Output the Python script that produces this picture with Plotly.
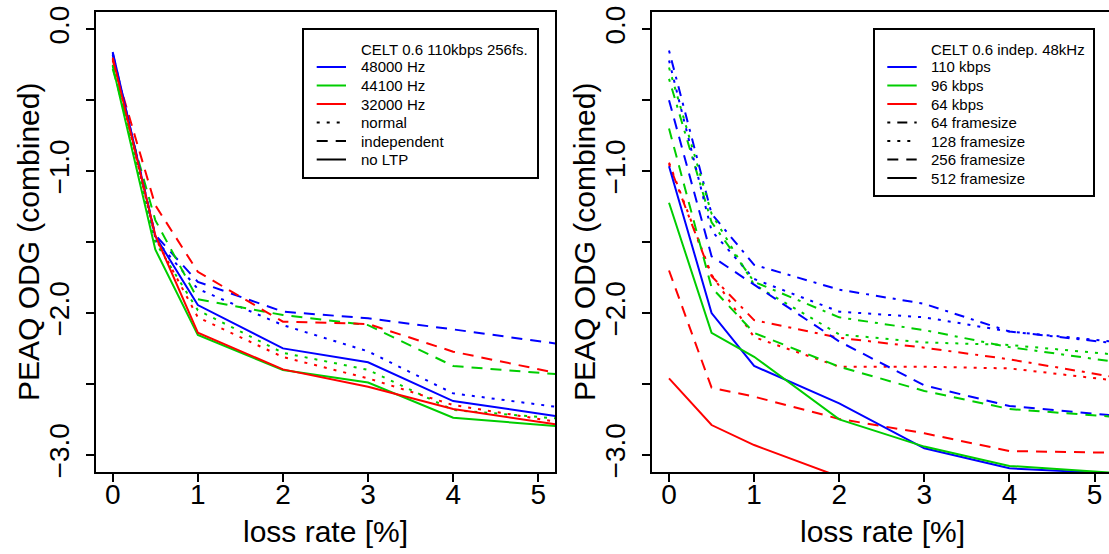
import plotly.graph_objects as go

W, H = 1109, 554
FONT = "Liberation Sans, Arial, Helvetica, sans-serif"

# loss rates [%] (last value sits on the right frame of the plot)
loss_rate = [0, 0.5, 1, 2, 3, 4, 5.2]

# left panel: CELT 0.6 110kbps 256fs., PEAQ ODG per sample rate / mode
hz48000_normal = [-0.18, -1.48, -1.83, -2.085, -2.27, -2.566, -2.66]
hz48000_indep = [-0.17, -1.45, -1.78, -1.99, -2.037, -2.115, -2.214]
hz48000_noltp = [-0.16, -1.458, -1.944, -2.249, -2.347, -2.62, -2.725]
hz44100_normal = [-0.25, -1.50, -1.98, -2.28, -2.40, -2.683, -2.742]
hz44100_indep = [-0.28, -1.345, -1.903, -2.014, -2.085, -2.373, -2.43]
hz44100_noltp = [-0.26, -1.552, -2.155, -2.401, -2.49, -2.737, -2.796]
hz32000_normal = [-0.21, -1.47, -2.03, -2.31, -2.46, -2.648, -2.765]
hz32000_indep = [-0.22, -1.24, -1.709, -2.061, -2.077, -2.272, -2.42]
hz32000_noltp = [-0.20, -1.451, -2.138, -2.397, -2.519, -2.676, -2.784]

# right panel: CELT 0.6 independent 48kHz, per bitrate / frame size
kbps110_fs64 = [-0.15, -1.30, -1.66, -1.835, -1.935, -2.13, -2.21]
kbps110_fs128 = [-0.22, -1.42, -1.76, -1.99, -2.03, -2.13, -2.20]
kbps110_fs256 = [-0.50, -1.60, -1.80, -2.20, -2.51, -2.655, -2.72]
kbps110_fs512 = [-0.965, -2.00, -2.373, -2.636, -2.953, -3.094, -3.13]
kbps96_fs64 = [-0.35, -1.36, -1.78, -2.03, -2.12, -2.24, -2.34]
kbps96_fs128 = [-0.27, -1.30, -1.80, -2.15, -2.207, -2.225, -2.29]
kbps96_fs256 = [-0.70, -1.82, -2.14, -2.378, -2.549, -2.676, -2.73]
kbps96_fs512 = [-1.223, -2.139, -2.308, -2.749, -2.941, -3.077, -3.125]
kbps64_fs64 = [-0.95, -1.74, -2.05, -2.174, -2.244, -2.326, -2.448]
kbps64_fs128 = [-0.94, -1.73, -2.17, -2.378, -2.378, -2.39, -2.472]
kbps64_fs256 = [-1.70, -2.526, -2.589, -2.746, -2.847, -2.972, -2.984]
kbps64_fs512 = [-2.46, -2.789, -2.93, -3.153, None, None, None]

x_ticks = [0, 1, 2, 3, 4, 5]
y_tick_vals = [0, -0.5, -1, -1.5, -2, -2.5, -3]
y_tick_text = ["0.0", "", "\u22121.0", "", "\u22122.0", "", "\u22123.0"]

BLUE, GREEN, RED = "#0000FF", "#00CD00", "#FF0000"
DOT = "3px,7px"
DASH = "11px,8px"
DOTDASH = "3px,7px,10px,7px"
LW = 2

left_series = [
    (hz48000_normal, BLUE, DOT), (hz44100_normal, GREEN, DOT), (hz32000_normal, RED, DOT),
    (hz48000_indep, BLUE, DASH), (hz44100_indep, GREEN, DASH), (hz32000_indep, RED, DASH),
    (hz48000_noltp, BLUE, "solid"), (hz44100_noltp, GREEN, "solid"), (hz32000_noltp, RED, "solid"),
]
right_series = [
    (kbps110_fs64, BLUE, DOTDASH), (kbps96_fs64, GREEN, DOTDASH), (kbps64_fs64, RED, DOTDASH),
    (kbps110_fs128, BLUE, DOT), (kbps96_fs128, GREEN, DOT), (kbps64_fs128, RED, DOT),
    (kbps110_fs256, BLUE, DASH), (kbps96_fs256, GREEN, DASH), (kbps64_fs256, RED, DASH),
    (kbps110_fs512, BLUE, "solid"), (kbps96_fs512, GREEN, "solid"), (kbps64_fs512, RED, "solid"),
]


def px_x(p):
    return p / W


def px_y(p):
    return 1 - p / H


fig = go.Figure()
for vals, color, dash in left_series:
    fig.add_trace(go.Scatter(x=loss_rate, y=vals, mode="lines", xaxis="x", yaxis="y",
                             line=dict(color=color, width=LW, dash=dash), showlegend=False))
for vals, color, dash in right_series:
    fig.add_trace(go.Scatter(x=loss_rate, y=vals, mode="lines", xaxis="x2", yaxis="y2",
                             line=dict(color=color, width=LW, dash=dash), showlegend=False))

axis_common = dict(showgrid=False, zeroline=False, showline=True, linecolor="black", linewidth=2,
                   ticks="outside", ticklen=8, tickwidth=1.5, tickcolor="black", automargin=False,
                   tickfont=dict(size=28, color="black", family=FONT))
xaxis_common = dict(tickvals=x_ticks, ticklabelstandoff=-12, mirror=True, **axis_common)
yaxis_common = dict(range=[-3.12, 0.12], tickangle=-90, tickvals=y_tick_vals, ticktext=y_tick_text,
                    ticklabelstandoff=6, domain=[px_y(472), px_y(12.2)], **axis_common)
x_per_unit = 85.1

fig.update_layout(
    width=W, height=H,
    margin=dict(l=0, r=0, t=0, b=0),
    paper_bgcolor="white", plot_bgcolor="white",
    font=dict(family=FONT, color="black"),
    xaxis=dict(domain=[px_x(95.7), px_x(555.3)], range=[-0.2, 5.2], anchor="y", **xaxis_common),
    yaxis=dict(anchor="x", mirror=True, **yaxis_common),
    xaxis2=dict(domain=[px_x(652), 1], range=[-0.2, -0.2 + (W - 652) / x_per_unit], anchor="y2",
                **xaxis_common),
    yaxis2=dict(anchor="x2", mirror=False, **yaxis_common),
)

# axis titles
for cx in (325.5, 882):
    fig.add_annotation(x=px_x(cx), y=px_y(531.5), xref="paper", yref="paper", text="loss rate [%]",
                       showarrow=False, xanchor="center", yanchor="middle", font=dict(size=30))
for cx in (28, 584):
    fig.add_annotation(x=px_x(cx), y=px_y(242), xref="paper", yref="paper", text="PEAQ ODG (combined)",
                       showarrow=False, textangle=-90, xanchor="center", yanchor="middle",
                       font=dict(size=30))

# legends, drawn as in the original (title row without sample)
legends = [
    dict(box=(303, 29, 538, 178), sample=(316.7, 346), text_x=359,
         title="CELT 0.6 110kbps 256fs.",
         rows=[("48000 Hz", BLUE, "solid"), ("44100 Hz", GREEN, "solid"), ("32000 Hz", RED, "solid"),
               ("normal", "black", DOT), ("independent", "black", DASH), ("no LTP", "black", "solid")]),
    dict(box=(874, 29, 1094, 196), sample=(887.3, 916.7), text_x=929.3,
         title="CELT 0.6 indep. 48kHz",
         rows=[("110 kbps", BLUE, "solid"), ("96 kbps", GREEN, "solid"), ("64 kbps", RED, "solid"),
               ("64 framesize", "black", DOTDASH), ("128 framesize", "black", DOT),
               ("256 framesize", "black", DASH), ("512 framesize", "black", "solid")]),
]
row_step = 18.5
for lg in legends:
    x0, y0, x1, y1 = lg["box"]
    fig.add_shape(type="rect", xref="paper", yref="paper", x0=px_x(x0), x1=px_x(x1),
                  y0=px_y(y1), y1=px_y(y0), line=dict(color="black", width=2), fillcolor="white")
    fig.add_annotation(x=px_x(lg["text_x"]), y=px_y(y0 + 20), xref="paper", yref="paper",
                       text=lg["title"], showarrow=False, xanchor="left", yanchor="middle",
                       font=dict(size=15))
    for i, (label, color, dash) in enumerate(lg["rows"]):
        yc = y0 + 38 + i * row_step
        fig.add_shape(type="line", xref="paper", yref="paper",
                      x0=px_x(lg["sample"][0]), x1=px_x(lg["sample"][1]), y0=px_y(yc), y1=px_y(yc),
                      line=dict(color=color, width=LW, dash=dash))
        fig.add_annotation(x=px_x(lg["text_x"]), y=px_y(yc), xref="paper", yref="paper",
                           text=label, showarrow=False, xanchor="left", yanchor="middle",
                           font=dict(size=15))

# the page has a default body margin; remove it so the figure fills the window
fig.write_html("out.html", config={"displayModeBar": False},
               post_script="document.body.style.margin='0';")
